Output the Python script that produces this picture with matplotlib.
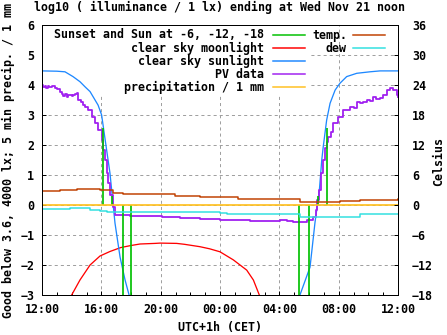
import matplotlib
matplotlib.use("Agg")
import matplotlib.pyplot as plt
from matplotlib.patches import Rectangle
from matplotlib.lines import Line2D

# hours after 12:00 on the x axis
tick_hours = [0, 4, 8, 12, 16, 20, 24]
tick_labels = ["12:00", "16:00", "20:00", "00:00", "04:00", "08:00", "12:00"]

# sunset / sun at -6, -12, -18 (impulses, log10 lx)
event_h = [4.13, 4.72, 5.43, 6.02, 17.35, 18.02, 18.58, 19.24]
event_v = [2.56, 0.3, -4.0, -4.0, -4.0, -4.0, 0.3, 2.56]

# clear sky moonlight
moon_h = [1.8, 2.0, 2.56, 3.24, 3.91, 4.58, 5.3, 6.0, 6.61, 7.62, 7.96, 9.08,
          9.6, 10.65, 11.3, 12.0, 12.9, 13.8, 14.25, 14.65, 14.8]
moon_v = [-3.4, -3.0, -2.5, -2.0, -1.7, -1.55, -1.42, -1.35, -1.3, -1.28, -1.27, -1.28,
          -1.31, -1.39, -1.46, -1.56, -1.83, -2.17, -2.5, -3.0, -3.4]

# clear sky sunlight
sun_h = [0.0, 1.0, 1.55, 2.09, 2.56, 2.9, 3.24, 3.78, 4.02, 4.25, 4.58, 4.92,
         5.26, 5.6, 5.87, 6.1,
         17.1, 17.39, 18.07, 18.4, 18.7, 18.86, 18.96, 19.19, 19.42, 19.76, 20.09,
         20.54, 21.22, 22.11, 22.79, 24.0]
sun_v = [4.47, 4.46, 4.44, 4.28, 4.11, 3.94, 3.78, 3.33, 3.0, 2.2, 1.07, -0.6,
         -1.73, -2.5, -3.0, -3.4,
         -3.4, -3.0, -2.07, -0.6, 0.5, 1.5, 1.94, 2.83, 3.39, 3.83, 4.06,
         4.28, 4.39, 4.44, 4.47, 4.47]

# PV data
pv_h = [0.0, 0.1, 0.2, 0.3, 0.4, 0.5, 0.6, 0.7, 0.8, 0.9, 1.0, 1.1, 1.21, 1.32,
        1.42, 1.55, 1.66, 1.78, 1.89, 2.0, 2.09, 2.2, 2.34, 2.43, 2.6, 2.76,
        2.93, 3.1, 3.35, 3.57, 3.78, 4.02, 4.13, 4.25, 4.36, 4.47, 4.58, 4.77,
        4.92, 5.3, 5.93, 6.5, 6.94, 7.5, 8.07, 8.7, 9.3, 10.0, 10.65, 11.3,
        12.0, 13.0, 14.0, 15.0, 16.05, 16.5, 16.9, 17.4, 17.85, 18.27, 18.47,
        18.56, 18.7, 18.81, 18.95, 19.08, 19.19, 19.3, 19.47, 19.64, 19.98,
        20.31, 20.76, 21.0, 21.22, 21.44, 21.66, 21.89, 22.1, 22.34, 22.55,
        22.79, 23.01, 23.24, 23.45, 23.68, 23.91, 24.0]
pv_v = [4.0, 3.95, 3.97, 3.9, 3.97, 3.93, 3.92, 3.98, 3.96, 3.89, 3.88, 3.86, 3.78, 3.7,
        3.65, 3.7, 3.6, 3.67, 3.68, 3.63, 3.66, 3.69, 3.72, 3.5, 3.42, 3.33,
        3.27, 3.17, 2.94, 2.72, 2.5, 2.17, 1.83, 1.5, 1.07, 0.73, 0.33, -0.06,
        -0.33, -0.34, -0.35, -0.36, -0.38, -0.37, -0.39, -0.4, -0.42, -0.44, -0.47, -0.47,
        -0.5, -0.51, -0.53, -0.52, -0.5, -0.53, -0.58, -0.57, -0.5, -0.39, -0.17,
        0.17, 0.5, 1.06, 1.5, 1.9, 2.1, 2.28, 2.45, 2.72, 2.94,
        3.17, 3.26, 3.22, 3.44, 3.39, 3.45, 3.5, 3.48, 3.61, 3.55,
        3.56, 3.67, 3.83, 3.9, 3.83, 3.67, 3.61]

# precipitation / 1 mm
precip_h = [0.0, 24.0]
precip_v = [0.0, 0.0]

# temperature and dew point, Celsius
temp_h = [0.0, 1.21, 2.34, 3.91, 4.79, 5.46, 8.63, 8.97, 10.65, 13.21, 16.72,
          17.39, 18.07, 18.74, 20.09, 21.44, 24.0]
temp_c = [2.9, 3.0, 3.2, 3.0, 2.5, 2.2, 2.2, 1.8, 1.6, 1.3, 1.15,
          0.7, 0.55, 0.7, 0.8, 1.0, 1.3]
dew_h = [0.0, 1.89, 3.24, 3.91, 4.36, 7.28, 12.0, 12.45, 14.02, 16.72, 17.39,
         20.09, 21.44, 24.0]
dew_c = [-0.85, -0.65, -0.9, -1.2, -1.45, -1.45, -1.5, -1.85, -1.7, -1.85, -2.35,
         -2.35, -1.85, -1.8]

C_EVENT = "#00c000"
C_MOON = "#ff0000"
C_SUN = "#1e88ff"
C_PV = "#a020f0"
C_PRECIP = "#ffc020"
C_TEMP = "#c04000"
C_DEW = "#30e0e0"

plt.rcParams["lines.scale_dashes"] = False
FONT = dict(family="DejaVu Sans Mono", weight="bold", size=8.4)
W, H = 447, 335
PX = 0.72  # one pixel in points
LW = 1.3 * PX


def ax_pos(x, y):
    # pixel position in the picture -> axes fraction
    return (x - 42) / 356, (295 - y) / 270


fig = plt.figure(figsize=(W / 100, H / 100), dpi=100)
ax = fig.add_axes([42 / W, 1 - 295 / H, 356 / W, 270 / H])
ax.set_xlim(0, 24)
ax.set_ylim(-3, 6)
ax.set_xticks(tick_hours)
ax.set_xticklabels(tick_labels)
ax.set_xticks(range(25), minor=True)
ax.set_yticks(range(-3, 7))
ax.tick_params(direction="in", length=4 * PX, width=PX, pad=5.5, top=False, right=False)
ax.tick_params(axis="x", which="minor", direction="in", length=3 * PX, width=PX)
for lab in ax.get_xticklabels() + ax.get_yticklabels():
    lab.set(**FONT)
for sp in ax.spines.values():
    sp.set_linewidth(PX)
ax.set_axisbelow(True)
ax.grid(True, which="major", color="#a0a0a0", linestyle=(0, (2.2, 2.2)), linewidth=PX)

# opaque key area
x0, y0 = ax_pos(43, 96)
x1, y1 = ax_pos(310, 26)
ax.add_patch(Rectangle((x0, y0), x1 - x0, y1 - y0, transform=ax.transAxes,
                       facecolor="white", edgecolor="none", zorder=1))

ax.plot(moon_h, moon_v, color=C_MOON, lw=LW, zorder=2)
ax.plot(sun_h, sun_v, color=C_SUN, lw=LW, zorder=2)
ax.plot(pv_h, pv_v, color=C_PV, lw=1.8 * PX, drawstyle="steps-post", zorder=3)
ax.vlines(event_h, 0, event_v, color=C_EVENT, lw=1.7 * PX, zorder=3)
ax.plot(precip_h, precip_v, color=C_PRECIP, lw=1.7 * PX, zorder=4)

ax2 = ax.twinx()
ax2.set_ylim(-18, 36)
ax2.set_yticks(range(-18, 37, 6))
ax2.tick_params(direction="in", length=4 * PX, width=PX, pad=10)
for lab in ax2.get_yticklabels():
    lab.set(**FONT)
for sp in ax2.spines.values():
    sp.set_linewidth(PX)
ax2.plot(temp_h, temp_c, color=C_TEMP, lw=1.5 * PX, drawstyle="steps-post")
ax2.plot(dew_h, dew_c, color=C_DEW, lw=1.5 * PX, drawstyle="steps-post")

# key, laid out like gnuplot's two columns
left_keys = [("Sunset and Sun at -6, -12, -18", C_EVENT),
             ("clear sky moonlight", C_MOON),
             ("clear sky sunlight", C_SUN),
             ("PV data", C_PV),
             ("precipitation / 1 mm", C_PRECIP)]
right_keys = [("temp.", C_TEMP), ("dew", C_DEW)]
rows = [35, 48, 61, 74, 87]
for (label, col), yr in zip(left_keys, rows):
    tx, ty = ax_pos(264, yr)
    ax2.text(tx, ty, label, transform=ax.transAxes, ha="right", va="center", **FONT)
    lx0, ly = ax_pos(273, yr)
    lx1, _ = ax_pos(305, yr)
    ax2.add_line(Line2D([lx0, lx1], [ly, ly], transform=ax.transAxes, color=col, lw=1.5 * PX))
for (label, col), yr in zip(right_keys, rows):
    tx, ty = ax_pos(347, yr)
    ax2.text(tx, ty, label, transform=ax.transAxes, ha="right", va="center", **FONT)
    lx0, ly = ax_pos(353, yr)
    lx1, _ = ax_pos(385, yr)
    ax2.add_line(Line2D([lx0, lx1], [ly, ly], transform=ax.transAxes, color=col, lw=1.5 * PX))

fig.text(220 / W, 1 - 7 / H, "log10 ( illuminance / 1 lx) ending at Wed Nov 21 noon",
         ha="center", va="center", **FONT)
fig.text(220 / W, 1 - 327 / H, "UTC+1h (CET)", ha="center", va="center", **FONT)
fig.text(8.5 / W, 1 - 160 / H, "Good below 3.6, 4000 lx; 5 min precip. / 1 mm",
         rotation=90, ha="center", va="center", **FONT)
fig.text(439 / W, 1 - 161 / H, "Celsius", rotation=90, ha="center", va="center", **FONT)

fig.savefig("out.png", dpi=100)
